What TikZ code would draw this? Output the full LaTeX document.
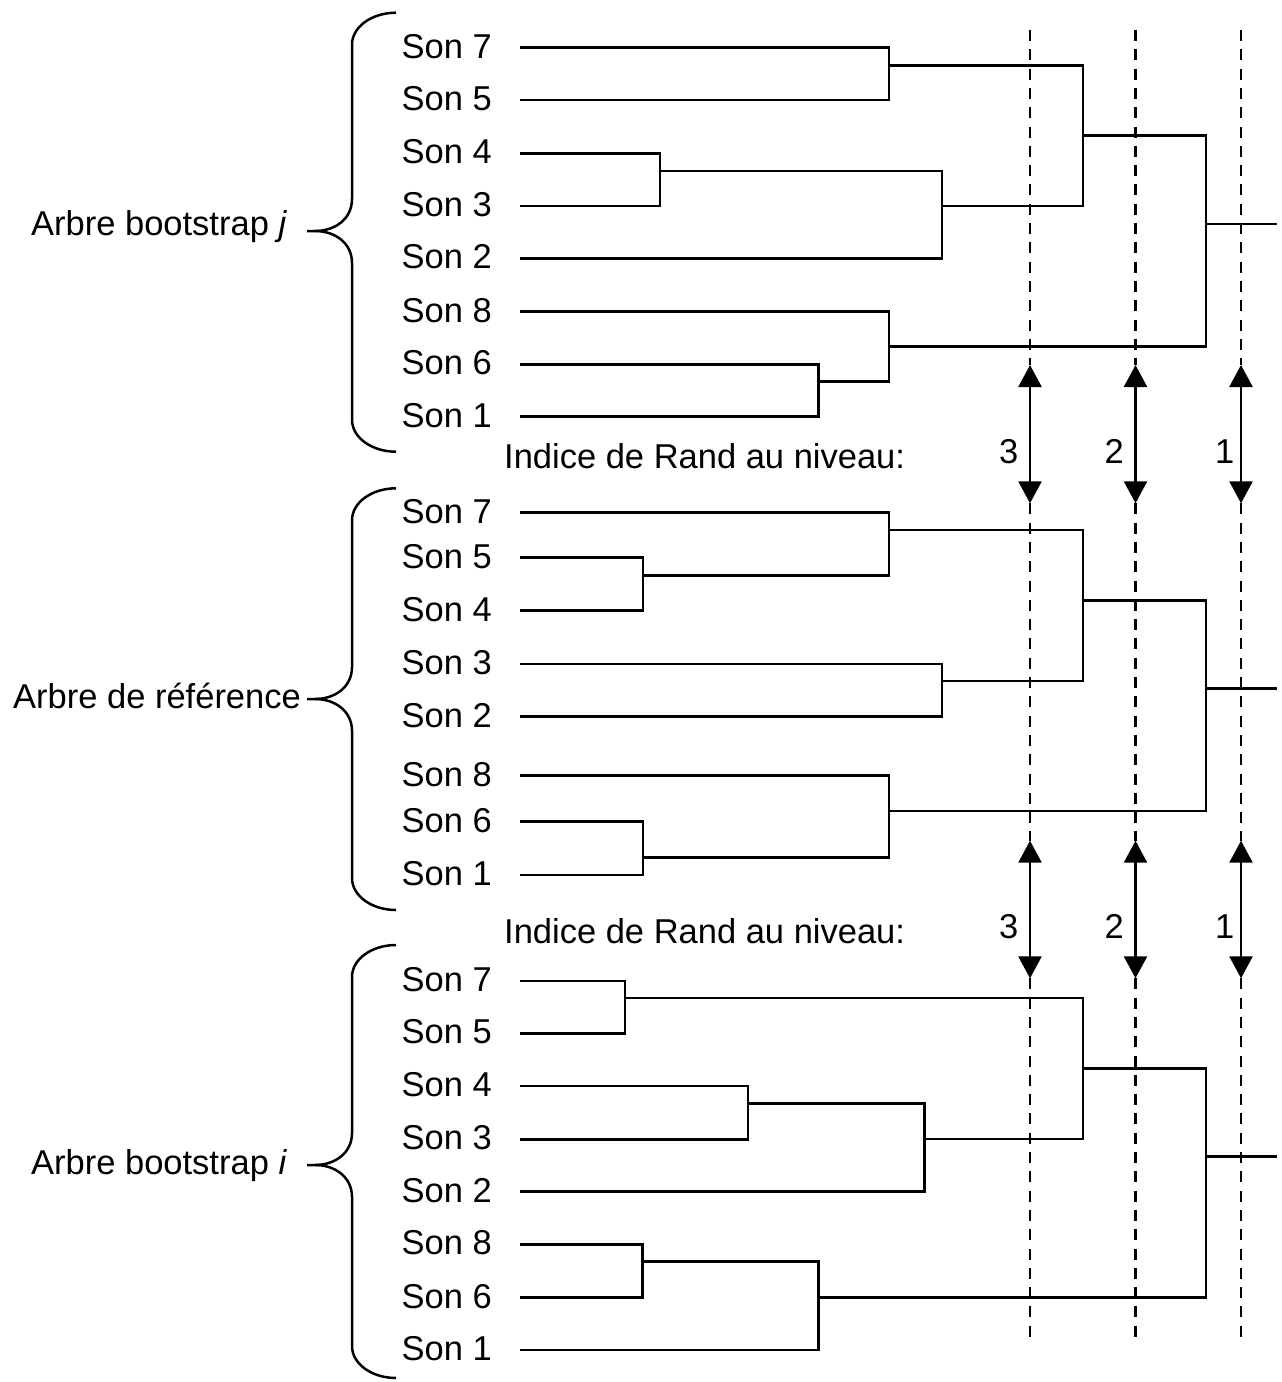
\documentclass[tikz,border=0pt]{standalone}
\usepackage{fontspec}
\setmainfont{Liberation Sans}
\usetikzlibrary{arrows.meta}
\newcommand{\mybrace}[4]{%
  \coordinate (tip#4) at (307,#2);
  \draw[brc] (tip#4) -- (315,#2) .. controls (335,#2) and (352,#2-12) .. (352,#2-32) -- (352,#1+32) .. controls (352,#1+14) and (372,#1) .. (396,#1);
  \draw[brc] (315,#2) .. controls (335,#2) and (352,#2+12) .. (352,#2+32) -- (352,#3-32) .. controls (352,#3-14) and (372,#3) .. (396,#3);
}
\begin{document}
\begin{tikzpicture}[x=1pt,y=-1pt,
  tl/.style={line width=2.5pt, line join=miter},
  dsh/.style={line width=2.6pt, dash pattern=on 11pt off 8.3pt},
  dbl/.style={line width=2.5pt, {Triangle[length=22pt,width=23pt]}-{Triangle[length=22pt,width=23pt]}},
  brc/.style={line width=2.5pt},
  lbl/.style={inner sep=0pt, anchor=base west, font=\fontsize{34.5}{40}\selectfont},
  num/.style={inner sep=0pt, anchor=base east, font=\fontsize{34.5}{40}\selectfont}]
\useasboundingbox (0,0) rectangle (1282,1382);

% ---------- leaf labels ----------
\foreach \n/\y in {7/47.7,5/100,4/153.3,3/206,2/258.3,8/311.7,6/364.3,1/416.7}
  {\node[lbl] (ta\n) at (401.5,\y+10.6) {Son \n};}
\foreach \n/\y in {7/512.5,5/557.7,4/610.7,3/664,2/716.7,8/775.7,6/821.7,1/875}
  {\node[lbl] (ma\n) at (401.5,\y+10.6) {Son \n};}
\foreach \n/\y in {7/981,5/1033.3,4/1086,3/1139.3,2/1191.7,8/1244.3,6/1297.7,1/1350}
  {\node[lbl] (ba\n) at (401.5,\y+10.6) {Son \n};}

% ---------- tree labels ----------
\node[lbl] (bj) at (31,235) {Arbre bootstrap \textit{j}};
\node[lbl] (bref) at (13,708.3) {Arbre de référence};
\node[lbl] (bi) at (31,1174) {Arbre bootstrap \textit{i}};
\node[lbl] (ind1) at (504,468.3) {Indice de Rand au niveau:};
\node[lbl] (ind2) at (504,943) {Indice de Rand au niveau:};

% ---------- braces ----------
\mybrace{12.7}{231}{451.7}{j}
\mybrace{488.3}{699}{910}{r}
\mybrace{945}{1165}{1378}{i}

% ---------- tree j ----------
\draw[tl] (520,47.7) -| (889,100) -- (520,100);
\draw[tl] (889,65.7) -| (1083,206) -- (942,206);
\draw[tl] (520,153.3) -| (660,206) -- (520,206);
\draw[tl] (660,171) -| (942,258.3) -- (520,258.3);
\draw[tl] (1083,135.7) -| (1206,346.7) -- (889,346.7);
\draw[tl] (520,311.7) -| (889,381.7) -- (818.5,381.7);
\draw[tl] (520,364.3) -| (818.5,416.7) -- (520,416.7);
\draw[tl] (1206,224) -- (1277,224);

% ---------- reference tree ----------
\draw[tl] (520,557.7) -| (643,610.7) -- (520,610.7);
\draw[tl] (520,512.5) -| (889,575.7) -- (643,575.7);
\draw[tl] (889,530) -| (1083,681) -- (942,681);
\draw[tl] (520,664) -| (942,716.7) -- (520,716.7);
\draw[tl] (1083,600.5) -| (1206,811) -- (889,811);
\draw[tl] (520,775.7) -| (889,857.5) -- (643,857.5);
\draw[tl] (520,821.7) -| (643,875) -- (520,875);
\draw[tl] (1206,688.5) -- (1277,688.5);

% ---------- tree i ----------
\draw[tl] (520,981) -| (625,1033.3) -- (520,1033.3);
\draw[tl] (625,998) -| (1083,1139) -- (924.5,1139);
\draw[tl] (520,1086) -| (748,1139.3) -- (520,1139.3);
\draw[tl] (748,1103.7) -| (924.5,1191.7) -- (520,1191.7);
\draw[tl] (1083,1068.5) -| (1206,1297.7) -- (818.5,1297.7);
\draw[tl] (520,1244.3) -| (642.5,1297.7) -- (520,1297.7);
\draw[tl] (642.5,1261.7) -| (818.5,1350) -- (520,1350);
\draw[tl] (1206,1156.5) -- (1277,1156.5);

% ---------- levels: dashed lines and double arrows ----------
\foreach \x/\k in {1030/3,1135.5/2,1241/1}{
  \coordinate (d\k a) at (\x,30);
  \coordinate (d\k b) at (\x,365);
  \coordinate (d\k c) at (\x,503.3);
  \coordinate (d\k d) at (\x,840.7);
  \coordinate (d\k e) at (\x,978.3);
  \coordinate (d\k f) at (\x,1341.7);
  \draw[dsh] (d\k a) -- (d\k b);
  \draw[dsh] (d\k c) -- (d\k d);
  \draw[dsh] (d\k e) -- (d\k f);
  \draw[dbl] (d\k b) -- (d\k c);
  \draw[dbl] (d\k d) -- (d\k e);
}
\node[num] (n3a) at (1018.5,463.3) {3};
\node[num] (n2a) at (1124,463.3) {2};
\node[num] (n1a) at (1234.5,463.3) {1};
\node[num] (n3b) at (1018.5,938.3) {3};
\node[num] (n2b) at (1124,938.3) {2};
\node[num] (n1b) at (1234.5,938.3) {1};
\end{tikzpicture}
\end{document}
